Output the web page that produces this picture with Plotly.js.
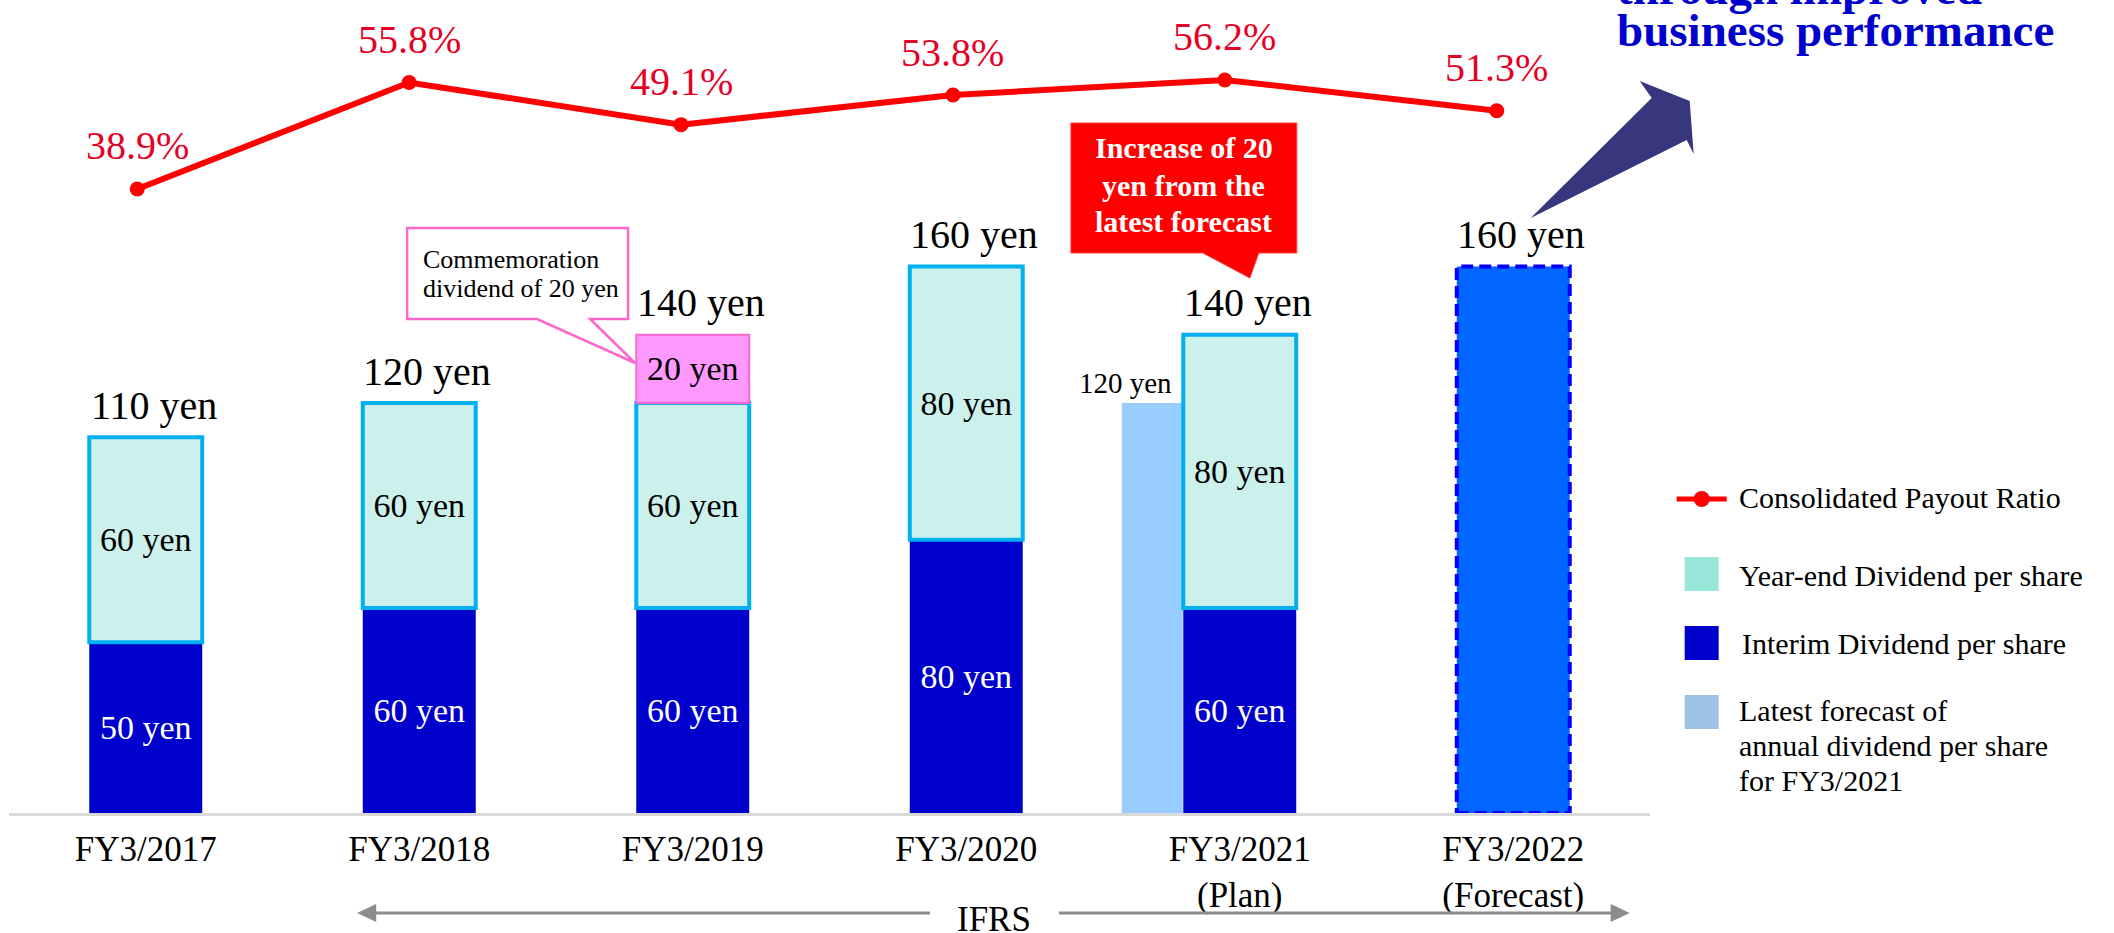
<!DOCTYPE html>
<html><head><meta charset="utf-8">
<script src="https://cdn.plot.ly/plotly-3.0.1.min.js"></script>
<style>html,body{margin:0;padding:0;background:#fff;overflow:hidden}#chart{width:2114px;height:933px}</style>
</head><body><div id="chart"></div>
<script>
// ---- data ----
const categories = ['FY3/2017','FY3/2018','FY3/2019','FY3/2020','FY3/2021<br>(Plan)','FY3/2022<br>(Forecast)'];
const interimDividend = [50, 60, 60, 80, 60, null];
const yearEndDividend = [60, 60, 60, 80, 80, null];
const commemorationDividend = [null, null, 20, null, null, null];
const latestForecastFY2021 = [null, null, null, null, 120, null];
const forecastDividend = [null, null, null, null, null, 160];
const payoutRatio = [38.9, 55.8, 49.1, 53.8, 56.2, 51.3];

// ---- geometry helpers (layout only) ----
const W = 2114, H = 933;
const L = 8.7, R = 1650.3, T = 0, B = 813;
const px = p => (p - L) / (R - L);
const py = p => (B - p) / (B - T);
const FONT = 'Liberation Serif, Times New Roman, serif';
const barW = 0.413;

const yenLabel = arr => arr.map(v => v == null ? '' : v + ' yen');
const add = (a, b) => a.map((v, i) => (v == null || b[i] == null) ? null : v + b[i]);
const baseYearEnd = interimDividend;
const baseComm = add(interimDividend, yearEndDividend);
const totals = categories.map((c, i) => {
  if (forecastDividend[i] != null) return forecastDividend[i];
  return (interimDividend[i] || 0) + (yearEndDividend[i] || 0) + (commemorationDividend[i] || 0);
});

const commonBar = {type: 'bar', x: categories, width: barW, offset: -barW / 2, textposition: 'inside',
  insidetextanchor: 'middle', textangle: 0, hoverinfo: 'skip', cliponaxis: false};

const traces = [
  {type: 'bar', x: categories, y: latestForecastFY2021, base: 0, width: 0.223, offset: -0.4313,
   marker: {color: '#99CCFF', line: {width: 0}}, hoverinfo: 'skip'},
  Object.assign({}, commonBar, {y: interimDividend, base: 0, text: yenLabel(interimDividend),
   marker: {color: '#0000CC', line: {width: 0}}, textfont: {family: FONT, size: 34, color: '#FFFFFF'}}),
  Object.assign({}, commonBar, {y: yearEndDividend, base: baseYearEnd, text: yenLabel(yearEndDividend),
   marker: {color: '#CCF1ED', line: {color: '#00B0F0', width: 4}}, textfont: {family: FONT, size: 34, color: '#000'}}),
  Object.assign({}, commonBar, {y: commemorationDividend, base: baseComm, text: yenLabel(commemorationDividend),
   marker: {color: '#FF99FF', line: {color: '#FF66CC', width: 2}}, textfont: {family: FONT, size: 34, color: '#000'}}),
  Object.assign({}, commonBar, {y: forecastDividend, base: 0, text: '',
   marker: {color: '#0066FF', line: {width: 0}}}),
  {type: 'scatter', mode: 'lines+markers', x: categories, y: payoutRatio, xaxis: 'x2', yaxis: 'y2',
   line: {color: '#FF0000', width: 6}, marker: {color: '#FF0000', size: 15}, hoverinfo: 'skip'}
];

// ---- annotations ----
const annotations = [];
// totals above bars
totals.forEach((t, i) => {
  annotations.push({xref: 'x', yref: 'y', x: categories[i], y: t, text: t + ' yen', showarrow: false,
    xanchor: 'center', yanchor: 'middle', yshift: 32, xshift: 8, font: {family: FONT, size: 40, color: '#000'}});
});
// latest forecast label
latestForecastFY2021.forEach((v, i) => {
  if (v == null) return;
  annotations.push({xref: 'x', yref: 'y', x: categories[i], y: v, text: v + ' yen', showarrow: false,
    xanchor: 'right', yanchor: 'middle', xshift: -66, yshift: 20, font: {family: FONT, size: 29, color: '#000'}});
});
// payout ratio labels
payoutRatio.forEach((v, i) => {
  annotations.push({xref: 'x2', yref: 'y2', x: categories[i], y: v, text: v.toFixed(1) + '%', showarrow: false,
    xanchor: 'center', yanchor: 'middle', yshift: 43, font: {family: FONT, size: 40, color: '#E60026'}});
});
const txt = (x, y, text, size, color, anchor, extra) => Object.assign({xref: 'paper', yref: 'paper',
  x: px(x), y: py(y), text: text, showarrow: false, xanchor: anchor || 'left', yanchor: 'middle',
  font: {family: FONT, size: size, color: color || '#000'}}, extra || {});

// callouts text
annotations.push(txt(421, 259, 'Commemoration', 26));
annotations.push(txt(421, 289, 'dividend of 20 yen', 26));
annotations.push(txt(1184, 148, '<b>Increase of 20</b>', 30, '#FFFFFF', 'center'));
annotations.push(txt(1184, 185, '<b>yen from the</b>', 30, '#FFFFFF', 'center'));
annotations.push(txt(1184, 222, '<b>latest forecast</b>', 30, '#FFFFFF', 'center'));
// top right message
annotations.push(txt(1615, -12, '<b>through improved</b>', 47, '#0000CC'));
annotations.push(txt(1615, 30, '<b>business performance</b>', 47, '#0000CC'));
// IFRS
annotations.push(txt(994, 919, 'IFRS', 35, '#000', 'center'));
// legend text
annotations.push(txt(1737, 498, 'Consolidated Payout Ratio', 30));
annotations.push(txt(1737, 575, 'Year-end Dividend per share', 30));
annotations.push(txt(1740, 643, 'Interim Dividend per share', 30));
annotations.push(txt(1737, 710, 'Latest forecast of', 30));
annotations.push(txt(1737, 745, 'annual dividend per share', 30));
annotations.push(txt(1737, 780, 'for FY3/2021', 30));

// ---- shapes ----
const path = pts => 'M ' + pts.map(p => px(p[0]) + ' ' + py(p[1])).join(' L ') + ' Z';
const shapes = [];
// dashed outline of the forecast bar (from data)
forecastDividend.forEach((v, i) => {
  if (v == null) return;
  shapes.push({type: 'rect', xref: 'x', yref: 'y', x0: i - barW / 2, x1: i + barW / 2, y0: 0, y1: v,
    line: {color: '#0000FF', width: 4, dash: '12px,6px'}, fillcolor: 'rgba(0,0,0,0)', layer: 'above'});
});
// commemoration callout
shapes.push({type: 'path', xref: 'paper', yref: 'paper',
  path: path([[407, 228], [628, 228], [628, 319], [590, 319], [635, 363], [537, 319], [407, 319]]),
  fillcolor: '#FFFFFF', line: {color: '#FF66CC', width: 2.5}, layer: 'above'});
// red callout
shapes.push({type: 'path', xref: 'paper', yref: 'paper',
  path: path([[1071, 123], [1297, 123], [1297, 253], [1259, 253], [1250, 278], [1203, 253], [1071, 253]]),
  fillcolor: '#FF0000', line: {color: '#FF4040', width: 1}, layer: 'above'});
// big arrow
shapes.push({type: 'path', xref: 'paper', yref: 'paper',
  path: path([[1531, 218], [1652, 98], [1640, 81], [1690, 101], [1694, 154], [1687, 140]]),
  fillcolor: '#37377D', line: {width: 0}, layer: 'above'});
// IFRS arrows
shapes.push({type: 'line', xref: 'paper', yref: 'paper', x0: px(372), x1: px(930), y0: py(913), y1: py(913),
  line: {color: '#8C8C8C', width: 3}});
shapes.push({type: 'path', xref: 'paper', yref: 'paper', path: path([[357, 913], [376, 904], [376, 922]]),
  fillcolor: '#8C8C8C', line: {width: 0}});
shapes.push({type: 'line', xref: 'paper', yref: 'paper', x0: px(1059), x1: px(1614), y0: py(913), y1: py(913),
  line: {color: '#8C8C8C', width: 3}});
shapes.push({type: 'path', xref: 'paper', yref: 'paper', path: path([[1630, 913], [1611, 904], [1611, 922]]),
  fillcolor: '#8C8C8C', line: {width: 0}});
// legend symbols
shapes.push({type: 'line', xref: 'paper', yref: 'paper', x0: px(1677), x1: px(1727), y0: py(499), y1: py(499),
  line: {color: '#FF0000', width: 5}});
shapes.push({type: 'circle', xref: 'paper', yref: 'paper', x0: px(1694), x1: px(1710), y0: py(491), y1: py(507),
  fillcolor: '#FF0000', line: {width: 0}});
shapes.push({type: 'rect', xref: 'paper', yref: 'paper', x0: px(1685), x1: px(1719), y0: py(557), y1: py(591),
  fillcolor: '#99E6DA', line: {width: 0}});
shapes.push({type: 'rect', xref: 'paper', yref: 'paper', x0: px(1685), x1: px(1719), y0: py(626), y1: py(660),
  fillcolor: '#0000CC', line: {width: 0}});
shapes.push({type: 'rect', xref: 'paper', yref: 'paper', x0: px(1685), x1: px(1719), y0: py(695), y1: py(729),
  fillcolor: '#9DC3E6', line: {width: 0}});

const layout = {
  width: W, height: H,
  margin: {l: L, r: W - R, t: T, b: H - B, pad: 0},
  paper_bgcolor: '#FFFFFF', plot_bgcolor: 'rgba(0,0,0,0)',
  barmode: 'overlay', showlegend: false,
  font: {family: FONT, color: '#000'},
  xaxis: {type: 'category', range: [-0.5, 5.5], showgrid: false, zeroline: false, showline: true,
    linecolor: '#D9D9D9', linewidth: 3, ticks: '', tickfont: {family: FONT, size: 35, color: '#000'},
    ticklabelstandoff: 3, fixedrange: true},
  xaxis2: {type: 'category', overlaying: 'x', range: [-0.4717, 5.5636], visible: false, fixedrange: true},
  yaxis: {range: [0, B / 3.416], visible: false, fixedrange: true},
  yaxis2: {overlaying: 'y', range: [-60.16, 68.89], visible: false, fixedrange: true},
  shapes: shapes,
  annotations: annotations
};

Plotly.newPlot('chart', traces, layout, {staticPlot: true, displayModeBar: false});
</script>
</body></html>
